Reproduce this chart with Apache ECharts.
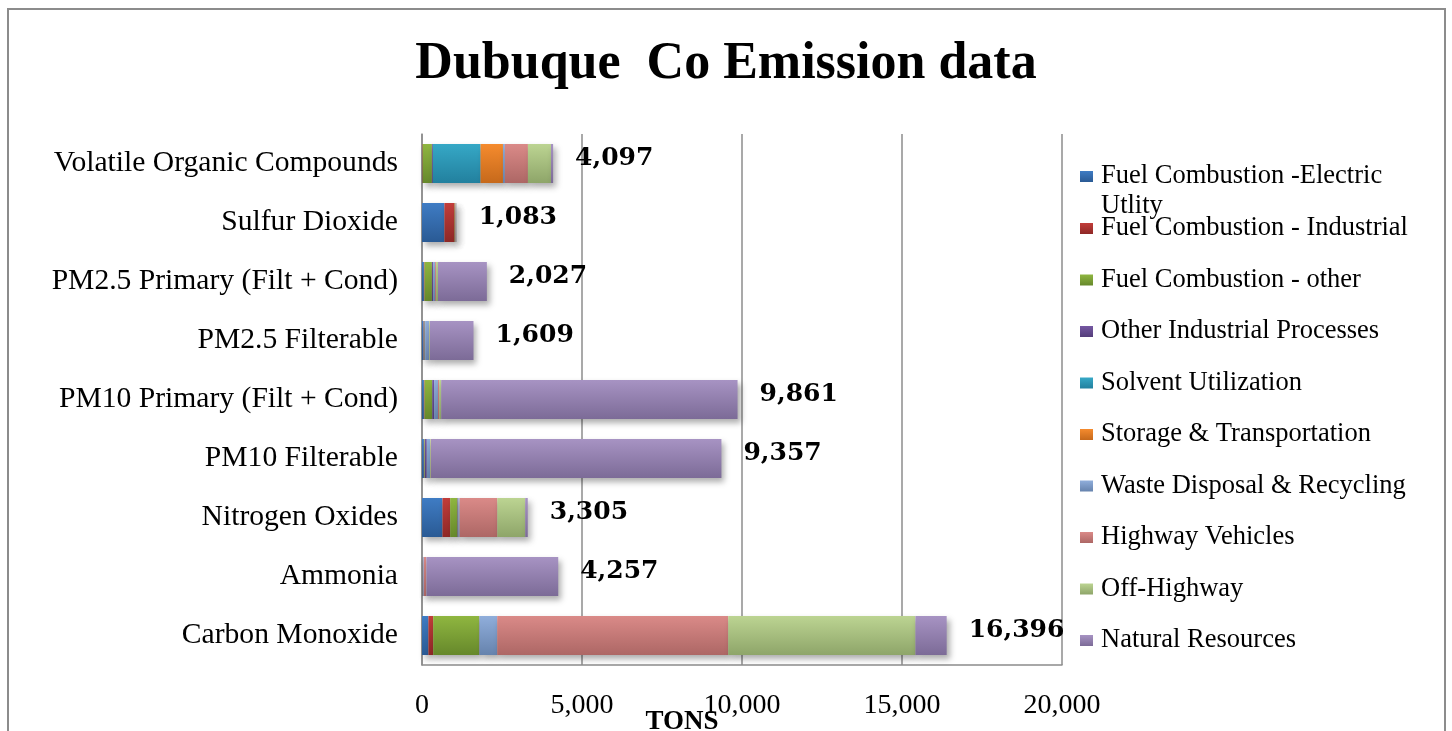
<!DOCTYPE html>
<html>
<head>
<meta charset="utf-8">
<title>Dubuque Co Emission data</title>
<script src="https://cdn.jsdelivr.net/npm/echarts@6/dist/echarts.min.js"></script>
<style>
  html, body { margin: 0; padding: 0; background: #fff; }
  #chart { width: 1452px; height: 731px; }
</style>
</head>
<body>
<div id="chart"></div>
<script>
// Pollutant categories, listed top to bottom
const categories = [
  'Volatile Organic Compounds',
  'Sulfur Dioxide',
  'PM2.5 Primary (Filt + Cond)',
  'PM2.5 Filterable',
  'PM10 Primary (Filt + Cond)',
  'PM10 Filterable',
  'Nitrogen Oxides',
  'Ammonia',
  'Carbon Monoxide'
];

// Source sectors (stack order, left to right)
const sectorNames = [
  'Fuel Combustion -Electric Utlity',
  'Fuel Combustion - Industrial',
  'Fuel Combustion - other',
  'Other Industrial Processes',
  'Solvent Utilization',
  'Storage & Transportation',
  'Waste Disposal & Recycling',
  'Highway Vehicles',
  'Off-Highway',
  'Natural Resources'
];

// Emissions in tons per sector, one value per category
const electricUtility   = [5, 700, 60, 50, 60, 60, 640, 0, 200];
const industrial        = [15, 320, 20, 10, 20, 10, 240, 5, 150];
const combustionOther   = [290, 15, 230, 20, 240, 20, 230, 10, 1440];
const otherIndustrial   = [30, 10, 40, 20, 60, 60, 20, 10, 10];
const solventUtil       = [1490, 0, 0, 0, 0, 0, 0, 0, 0];
const storageTransport  = [700, 0, 0, 0, 0, 0, 5, 0, 0];
const wasteDisposal     = [60, 3, 60, 120, 120, 100, 40, 30, 550];
const highwayVehicles   = [720, 10, 30, 10, 40, 10, 1180, 80, 7220];
const offHighway        = [720, 15, 60, 20, 60, 20, 870, 2, 5850];
const naturalResources  = [67, 10, 1527, 1359, 9261, 9077, 80, 4120, 976];

// Axis ticks
const xTicks = [0, 5000, 10000, 15000, 20000];

const sectorValues = [
  electricUtility, industrial, combustionOther, otherIndustrial, solventUtil,
  storageTransport, wasteDisposal, highwayVehicles, offHighway, naturalResources
];

// Top / bottom shades for each sector's bar gradient
const sectorColors = [
  ['#3f7cc4', '#2a5a94'],
  ['#c23d3a', '#8e2826'],
  ['#8fb640', '#66882b'],
  ['#7558a2', '#543d7a'],
  ['#36a8c6', '#22809e'],
  ['#f58b2e', '#c6691b'],
  ['#90aedb', '#6683ad'],
  ['#da8a88', '#ad6765'],
  ['#bcd492', '#8ea569'],
  ['#a793c3', '#7c6b97']
];

const serif = '"Liberation Serif", "Times New Roman", serif';

function gradient(pair) {
  return new echarts.graphic.LinearGradient(0, 0, 0, 1, [
    { offset: 0, color: pair[0] },
    { offset: 1, color: pair[1] }
  ]);
}

const totals = categories.map((_, i) =>
  sectorValues.reduce((s, arr) => s + arr[i], 0));

const series = sectorNames.map((name, k) => {
  const s = {
    name: name,
    type: 'bar',
    stack: 'total',
    barWidth: 39,
    data: sectorValues[k],
    itemStyle: {
      color: gradient(sectorColors[k]),
      shadowBlur: 6,
      shadowOffsetX: 3,
      shadowOffsetY: 4,
      shadowColor: 'rgba(0,0,0,0.32)'
    },
    emphasis: { disabled: true }
  };
  if (k === sectorNames.length - 1) {
    s.label = {
      show: true,
      position: 'right',
      distance: 22,
      offset: [0, -5],
      fontFamily: '"DejaVu Serif", serif',
      fontWeight: 'bold',
      fontSize: 25,
      color: '#000',
      formatter: p => totals[p.dataIndex].toLocaleString('en-US')
    };
  }
  return s;
});

// One legend block per sector so the rows keep a fixed pitch;
// the first name wraps onto a second line that runs into the next row
const legendFirstCenter = 176.5;
const legendPitch = 51.5;
const legends = sectorNames.map((name, k) => {
  const wrapped = k === 0;
  return {
    data: [name],
    left: 1080,
    top: wrapped ? legendFirstCenter - 45 : legendFirstCenter + k * legendPitch - 13,
    padding: 0,
    icon: 'rect',
    itemWidth: 13,
    itemHeight: 11,
    selectedMode: false,
    formatter: wrapped ? '\nFuel Combustion -Electric\nUtlity' : '{name}',
    textStyle: {
      fontFamily: serif,
      fontSize: 26.5,
      color: '#000',
      lineHeight: wrapped ? 30 : undefined,
      padding: [0, 0, 0, 3]
    }
  };
});

const chart = echarts.init(document.getElementById('chart'), null, { renderer: 'canvas' });
chart.setOption({
  animation: false,
  backgroundColor: '#fff',
  title: {
    text: 'Dubuque  Co Emission data',
    left: 'center',
    top: 34,
    textStyle: {
      fontFamily: serif,
      fontWeight: 'bold',
      fontSize: 52,
      color: '#000'
    }
  },
  graphic: [{
    type: 'rect',
    shape: { x: 8, y: 9, width: 1437, height: 760 },
    style: { fill: 'none', stroke: '#8c8c8c', lineWidth: 2 },
    silent: true
  }],
  legend: legends,
  grid: {
    left: 422, right: 390, top: 134, bottom: 66,
    containLabel: false,
    outerBoundsMode: 'none'
  },
  xAxis: {
    type: 'value',
    min: xTicks[0],
    max: xTicks[xTicks.length - 1],
    interval: xTicks[1] - xTicks[0],
    name: 'TONS',
    nameLocation: 'middle',
    nameGap: 44,
    nameMoveOverlap: false,
    nameTextStyle: {
      fontFamily: serif,
      fontWeight: 'bold',
      fontSize: 27,
      color: '#000',
      padding: [0, 120, 0, 0]
    },
    axisLine: { show: true, lineStyle: { color: '#8c8c8c', width: 1.5 } },
    axisTick: { show: false },
    axisLabel: {
      fontFamily: serif,
      fontSize: 28,
      color: '#000',
      margin: 27,
      hideOverlap: false,
      formatter: v => v.toLocaleString('en-US')
    },
    splitLine: { show: true, lineStyle: { color: '#8c8c8c', width: 1.5 } }
  },
  yAxis: {
    type: 'category',
    data: categories,
    inverse: true,
    axisLine: { show: true, lineStyle: { color: '#8c8c8c', width: 1.5 } },
    axisTick: { show: false },
    axisLabel: {
      fontFamily: serif,
      fontSize: 29.6,
      color: '#000',
      margin: 24
    },
    splitLine: { show: false }
  },
  series: series
});
</script>
</body>
</html>
